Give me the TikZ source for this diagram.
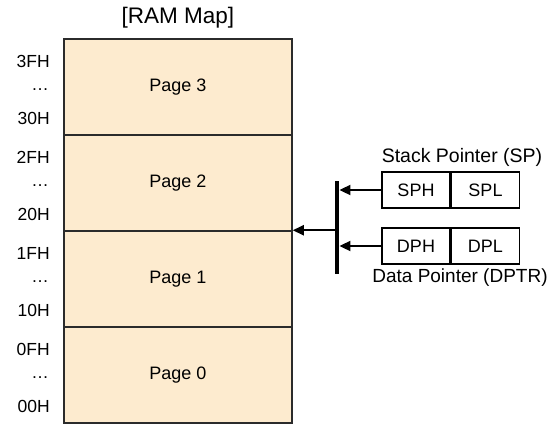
\documentclass[tikz,border=0pt]{standalone}
\usepackage{fontspec}
\setmainfont{Liberation Sans}
\usetikzlibrary{arrows.meta,positioning}
\definecolor{page}{HTML}{FDEBCF}
\definecolor{edge}{HTML}{2B2B2B}
\tikzset{
  pagebox/.style={draw=edge, fill=page, line width=1.5pt, minimum width=228pt, minimum height=96pt, inner sep=0pt, font=\fontsize{18}{20}\selectfont},
  addr/.style={anchor=east, inner sep=0pt, font=\fontsize{17.5}{20}\selectfont},
  reg/.style={draw=black, line width=1.5pt, minimum width=68pt, minimum height=36pt, inner sep=0pt, font=\fontsize{18}{20}\selectfont},
  lab/.style={inner sep=0pt, font=\fontsize{19.5}{22}\selectfont},
  arr/.style={-{Triangle[length=11pt,width=10pt]}, line width=2pt},
  bar/.style={fill=black, minimum width=4.5pt, minimum height=93pt, inner sep=0pt},
}
\begin{document}
\begin{tikzpicture}[x=1pt, y=-1pt]
  \useasboundingbox (0,0) rectangle (550,424);
  \node[lab, font=\fontsize{22.5}{24}\selectfont] (title) at (178,18) {[RAM Map]};
  % memory pages
  \node[pagebox] (page3) at (178,87) {Page 3};
  \node[pagebox] (page2) at (178,183) {Page 2};
  \node[pagebox] (page1) at (178,279) {Page 1};
  \node[pagebox] (page0) at (178,375) {Page 0};
  % addresses
  \node[addr] (a3h) at (50,61) {3FH};
  \node[addr] (a3d) at (49,90) {…};
  \node[addr] (a3l) at (50,118) {30H};
  \node[addr] (a2h) at (50,157) {2FH};
  \node[addr] (a2d) at (49,186) {…};
  \node[addr] (a2l) at (50,214) {20H};
  \node[addr] (a1h) at (50,253) {1FH};
  \node[addr] (a1d) at (49,282) {…};
  \node[addr] (a1l) at (50,310) {10H};
  \node[addr] (a0h) at (50,349) {0FH};
  \node[addr] (a0d) at (49,378) {…};
  \node[addr] (a0l) at (50,406) {00H};
  % pointer registers
  \node[reg] (sph) at (416,190) {SPH};
  \node[reg, right=0pt of sph] (spl) {SPL};
  \node[reg] (dph) at (416,246) {DPH};
  \node[reg, right=0pt of dph] (dpl) {DPL};
  \node[lab] (splab) at (462,157) {Stack Pointer (SP)};
  \node[lab, font=\fontsize{19}{22}\selectfont] (dplab) at (460,278) {Data Pointer (DPTR)};
  \node[bar] (bus) at (337,227.5) {};
  \draw[arr] (sph.west) -- (sph.west -| bus.east);
  \draw[arr] (dph.west) -- (dph.west -| bus.east);
  \draw[arr] (bus.west |- page1.north east) -- (page1.north east);
\end{tikzpicture}
\end{document}
